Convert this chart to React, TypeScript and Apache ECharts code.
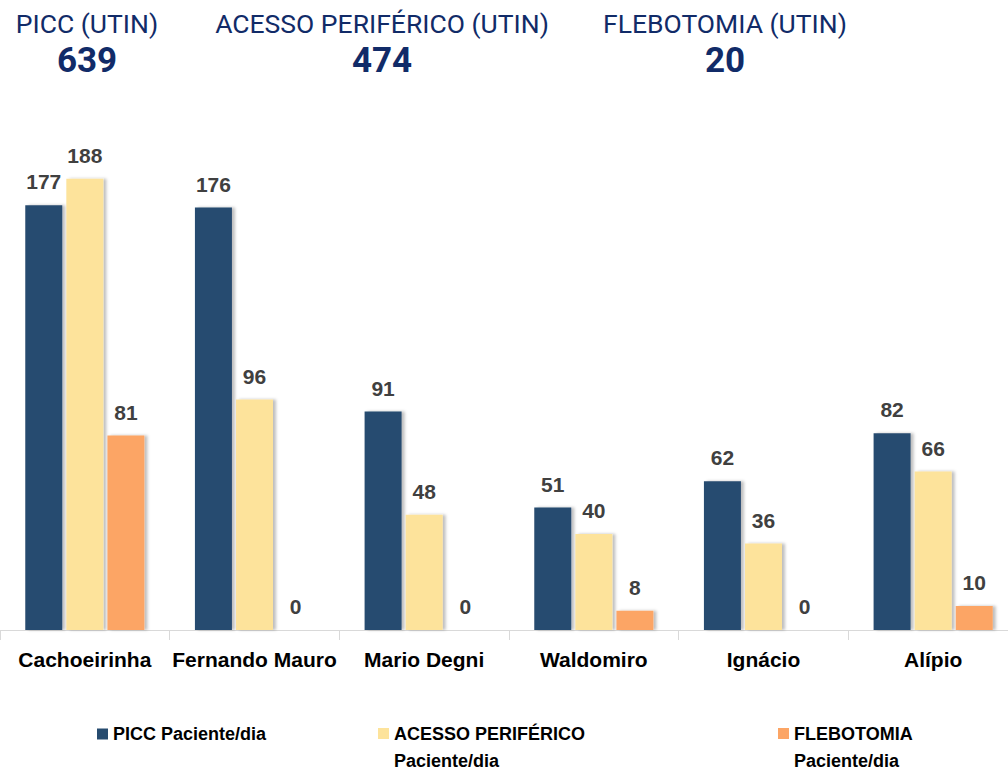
import React, { useEffect, useRef } from "react";
import * as echarts from "echarts";

const categories = ["Cachoeirinha", "Fernando Mauro", "Mario Degni", "Waldomiro", "Ignácio", "Alípio"];
const seriesNames = ["PICC Paciente/dia", "ACESSO PERIFÉRICO\nPaciente/dia", "FLEBOTOMIA\nPaciente/dia"];
const piccValues = [177, 176, 91, 51, 62, 82];
const acessoValues = [188, 96, 48, 40, 36, 66];
const flebotomiaValues = [81, 0, 0, 8, 0, 10];
const headerTitles = ["PICC (UTIN)", "ACESSO PERIFÉRICO (UTIN)", "FLEBOTOMIA (UTIN)"];
const headerTotals = ["639", "474", "20"];

const colors = ["#264b6f", "#fde39b", "#fca565"];
const headerX = [87, 382, 725];
const legendX = [92, 373, 773];

export default function App() {
  const ref = useRef<HTMLDivElement>(null);
  useEffect(() => {
    if (!ref.current) return;
    const chart = echarts.init(ref.current, null, { renderer: "svg" });
    const font = '"Liberation Sans", Arial, sans-serif';
    const values = [piccValues, acessoValues, flebotomiaValues];
    const graphics: any[] = [];
    headerTitles.forEach((t, i) => {
      graphics.push({
        type: "text",
        x: headerX[i],
        y: 23,
        style: {
          text: t,
          fill: "#112b68",
          font: '400 26.5px Roboto, "Noto Sans", sans-serif',
          textAlign: "center",
          textVerticalAlign: "middle",
        },
      });
      graphics.push({
        type: "text",
        x: headerX[i],
        y: 60,
        style: {
          text: headerTotals[i],
          fill: "#112b68",
          font: '700 35px Roboto, "Noto Sans", sans-serif',
          textAlign: "center",
          textVerticalAlign: "middle",
        },
      });
    });
    const legendText = {
      color: "#000",
      fontFamily: font,
      fontWeight: "bold" as const,
      fontSize: 18,
      lineHeight: 27,
    };
    chart.setOption({
      animation: false,
      color: colors,
      graphic: graphics,
      grid: {
        left: 0,
        width: 1018,
        top: 150,
        bottom: 140,
        containLabel: false,
        outerBoundsMode: "none",
      },
      legend: seriesNames.map((n, i) => ({
        data: [n],
        left: legendX[i],
        top: i === 0 ? 715.5 : 688,
        icon: "rect",
        itemWidth: 11,
        itemHeight: 11,
        selectedMode: false,
        formatter: i === 0 ? "{name}" : (name: string) => " \n" + name,
        textStyle: legendText,
      })),
      xAxis: {
        type: "category",
        data: categories,
        axisLine: { lineStyle: { color: "#d9d9d9", width: 1 } },
        axisTick: { show: true, length: 10, lineStyle: { color: "#d9d9d9" } },
        axisLabel: {
          interval: 0,
          color: "#000",
          fontFamily: font,
          fontWeight: "bold",
          fontSize: 21,
          margin: 19,
        },
      },
      yAxis: {
        type: "value",
        min: 0,
        max: 200,
        show: false,
        splitLine: { show: false },
      },
      series: seriesNames.map((n, i) => ({
        type: "bar",
        name: n,
        data: values[i],
        barWidth: 37,
        barGap: "11%",
        itemStyle: {
          color: colors[i],
          shadowColor: "rgba(0,0,0,0.25)",
          shadowBlur: 3,
          shadowOffsetX: 3,
        },
        label: {
          show: true,
          position: "top",
          distance: 13,
          color: "#404040",
          fontFamily: font,
          fontWeight: "bold",
          fontSize: 21,
        },
      })),
    });
    return () => chart.dispose();
  }, []);
  return (
    <div
      ref={ref}
      style={{ position: "fixed", left: 0, top: 0, width: 1008, height: 770, background: "#fff" }}
    />
  );
}
